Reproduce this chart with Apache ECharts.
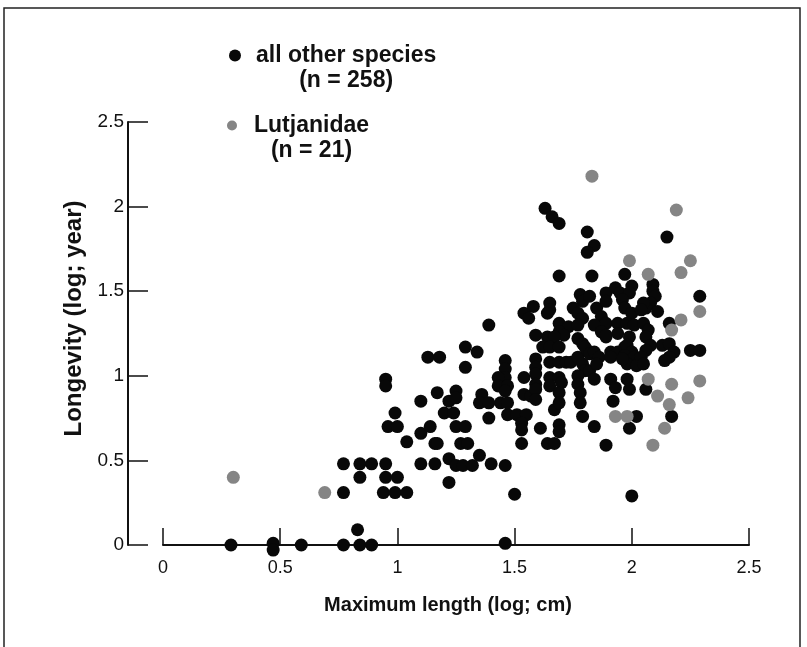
<!DOCTYPE html>
<html>
<head>
<meta charset="utf-8">
<title>Longevity vs maximum length</title>
<script src="https://cdn.jsdelivr.net/npm/echarts@6/dist/echarts.min.js"></script>
<style>
  html, body { margin: 0; padding: 0; background: #ffffff; }
  #chart { width: 807px; height: 647px; }
</style>
</head>
<body>
<div id="chart"></div>
<script>
// Axis ticks (log scales)
const xTicks = [0, 0.5, 1, 1.5, 2, 2.5];
const yTicks = [0, 0.5, 1, 1.5, 2, 2.5];

// All other species: log maximum length (cm) and log longevity (year)
const lengthOther = [
  0.29, 0.47, 0.47, 0.59, 0.77, 0.84, 0.89, 0.83, 1.46,
  0.77, 0.94, 0.99, 1.04, 0.84, 0.95, 1.00, 0.77, 0.84, 0.89, 0.95,
  1.04, 1.10, 1.16, 1.14, 0.96, 1.00, 0.99, 1.10, 1.10, 1.16,
  1.22, 1.25, 1.28, 1.32, 1.35, 1.40, 1.46, 1.22, 1.50,
  1.17, 1.27, 1.30, 1.53, 1.64, 1.67, 1.89,
  1.20, 1.24, 1.25, 1.29, 1.39, 1.47, 1.51, 1.55, 1.53, 1.53,
  1.61, 1.69, 1.69, 1.67, 1.84, 1.79, 1.92, 2.02, 2.17, 1.99,
  1.17, 1.22, 1.25, 1.25, 1.36, 1.35, 1.39, 1.44, 1.47,
  1.29, 1.34, 1.29, 1.13, 1.18, 0.95, 0.95, 1.39,
  1.46, 1.46, 1.46, 1.43, 1.43, 1.47, 1.46, 1.54, 1.54, 1.57,
  1.59, 1.59, 1.59, 1.59, 1.59, 1.59, 1.65, 1.69, 1.72, 1.74,
  1.77, 1.79, 1.80, 1.65, 1.69, 1.65, 1.70, 1.69, 1.69,
  1.77, 1.77, 1.78, 1.78, 1.82, 1.84, 1.91, 1.93, 1.98, 1.99, 2.06, 2.00,
  1.63, 1.66, 1.69, 1.81, 1.84, 1.81, 1.69, 1.83, 2.15,
  1.78, 1.79, 1.65, 1.65, 1.64, 1.58, 1.54, 1.56, 1.75, 1.77, 1.79,
  1.69, 1.73, 1.69, 1.71, 1.77, 1.79, 1.81, 1.59, 1.64, 1.67,
  1.62, 1.65, 1.69, 1.82, 1.85, 1.87, 1.89, 1.77, 1.84, 1.87, 1.89,
  1.80, 1.82, 1.84, 1.86, 1.85, 1.91, 1.94, 1.97,
  1.89, 1.89, 1.93, 1.95, 2.00, 1.99, 1.96, 1.97, 2.00, 1.97,
  2.09, 2.09, 2.10, 2.08, 2.06, 2.11, 2.05, 2.04,
  1.94, 1.98, 2.01, 2.05, 2.07, 2.16, 1.89, 1.94,
  1.99, 1.98, 2.00, 1.97, 2.01, 1.98, 2.02,
  2.06, 2.08, 2.06, 2.04, 2.05, 2.13, 2.16, 2.18, 2.16, 2.14,
  1.91, 1.96, 2.25, 2.29, 2.29
];
const longevityOther = [
  0.00, 0.01, -0.03, 0.00, 0.00, 0.00, 0.00, 0.09, 0.01,
  0.31, 0.31, 0.31, 0.31, 0.40, 0.40, 0.40, 0.48, 0.48, 0.48, 0.48,
  0.61, 0.66, 0.60, 0.70, 0.70, 0.70, 0.78, 0.85, 0.48, 0.48,
  0.51, 0.47, 0.47, 0.47, 0.53, 0.48, 0.47, 0.37, 0.30,
  0.60, 0.60, 0.60, 0.60, 0.60, 0.60, 0.59,
  0.78, 0.78, 0.70, 0.70, 0.75, 0.77, 0.77, 0.77, 0.72, 0.68,
  0.69, 0.71, 0.67, 0.80, 0.70, 0.76, 0.85, 0.76, 0.76, 0.69,
  0.90, 0.85, 0.91, 0.87, 0.89, 0.84, 0.84, 0.84, 0.84,
  1.17, 1.14, 1.05, 1.11, 1.11, 0.98, 0.94, 1.30,
  1.09, 1.04, 0.99, 0.99, 0.94, 0.94, 0.91, 0.99, 0.89, 0.88,
  1.10, 1.05, 1.01, 0.95, 0.92, 0.86, 1.08, 1.08, 1.08, 1.08,
  1.11, 1.07, 1.03, 0.99, 0.99, 0.94, 0.96, 0.90, 0.84,
  1.00, 0.95, 0.90, 0.84, 1.03, 0.98, 0.98, 0.93, 0.98, 0.92, 0.92, 0.29,
  1.99, 1.94, 1.90, 1.85, 1.77, 1.73, 1.59, 1.59, 1.82,
  1.48, 1.44, 1.43, 1.39, 1.37, 1.41, 1.37, 1.34, 1.40, 1.37, 1.34,
  1.31, 1.29, 1.26, 1.24, 1.22, 1.19, 1.15, 1.24, 1.23, 1.23,
  1.17, 1.17, 1.17, 1.47, 1.40, 1.35, 1.31, 1.30, 1.30, 1.26, 1.23,
  1.17, 1.13, 1.14, 1.11, 1.07, 1.14, 1.14, 1.17,
  1.49, 1.44, 1.52, 1.49, 1.53, 1.49, 1.45, 1.40, 1.37, 1.60,
  1.54, 1.50, 1.47, 1.43, 1.40, 1.38, 1.43, 1.39,
  1.31, 1.31, 1.30, 1.31, 1.27, 1.31, 1.24, 1.25,
  1.23, 1.18, 1.14, 1.12, 1.11, 1.07, 1.06,
  1.23, 1.18, 1.15, 1.11, 1.07, 1.18, 1.19, 1.14, 1.11, 1.09,
  1.11, 1.10, 1.15, 1.15, 1.47
];

// Lutjanidae (snappers)
const lengthLutjanidae = [
  0.30, 0.69, 1.83, 2.19, 1.99, 2.25, 2.21, 2.07, 2.29, 2.21, 2.17,
  2.07, 2.17, 2.29, 2.11, 2.24, 2.16, 1.93, 1.98, 2.14, 2.09
];
const longevityLutjanidae = [
  0.40, 0.31, 2.18, 1.98, 1.68, 1.68, 1.61, 1.60, 1.38, 1.33, 1.27,
  0.98, 0.95, 0.97, 0.88, 0.87, 0.83, 0.76, 0.76, 0.69, 0.59
];

const seriesNames = ['all other species', 'Lutjanidae'];
const seriesCounts = [258, 21];

const pairs = (xs, ys) => xs.map((x, i) => [x, ys[i]]);

const FONT = '"Liberation Sans", Arial, Helvetica, sans-serif';
const INK = '#111111';

function legendFor(idx, left, top, size) {
  return {
    data: [seriesNames[idx]],
    left: left,
    top: top,
    padding: 0,
    icon: 'circle',
    itemWidth: size,
    itemHeight: size,
    selectedMode: false,
    formatter: name => '{e| }\n{t|' + name + '}\n{n|(n = ' + seriesCounts[idx] + ')}',
    textStyle: {
      padding: [0, 0, 0, 22 - size],
      rich: {
        e: { fontSize: 23, lineHeight: 25 },
        t: { fontSize: 23, lineHeight: 25, fontWeight: 'bold', color: INK, fontFamily: FONT },
        n: { fontSize: 23, lineHeight: 25, fontWeight: 'bold', color: INK, fontFamily: FONT, align: 'center' }
      }
    }
  };
}

const chart = echarts.init(document.getElementById('chart'), null, { renderer: 'canvas' });

chart.setOption({
  animation: false,
  backgroundColor: '#ffffff',
  textStyle: { fontFamily: FONT },
  grid: { left: 163, right: 58, top: 122, bottom: 102 },
  legend: [
    legendFor(0, 229, 19, 12),
    legendFor(1, 227, 89, 10)
  ],
  xAxis: {
    type: 'value',
    min: xTicks[0],
    max: xTicks[xTicks.length - 1],
    interval: xTicks[1] - xTicks[0],
    name: 'Maximum length (log; cm)',
    nameLocation: 'middle',
    nameGap: 50,
    nameTextStyle: { fontSize: 20, fontWeight: 'bold', color: INK, fontFamily: FONT, padding: [0, 16, 0, 0] },
    axisLine: { show: true, onZero: false, lineStyle: { color: INK, width: 2 } },
    axisTick: { show: true, inside: true, length: 17, lineStyle: { color: INK, width: 1.5 } },
    axisLabel: { fontSize: 18, color: INK, margin: 14, fontFamily: FONT },
    splitLine: { show: false }
  },
  yAxis: {
    type: 'value',
    min: yTicks[0],
    max: yTicks[yTicks.length - 1],
    interval: yTicks[1] - yTicks[0],
    offset: 35,
    name: 'Longevity (log; year)',
    nameLocation: 'middle',
    nameRotate: 90,
    nameGap: 38,
    nameTextStyle: { fontSize: 24, fontWeight: 'bold', color: INK, fontFamily: FONT, padding: [0, 0, 0, 30] },
    axisLine: { show: true, onZero: false, lineStyle: { color: INK, width: 2 } },
    axisTick: { show: true, inside: true, length: 20, lineStyle: { color: INK, width: 1.5 } },
    axisLabel: { fontSize: 19, color: INK, margin: 4, fontFamily: FONT },
    splitLine: { show: false }
  },
  graphic: [{
    type: 'rect',
    silent: true,
    shape: { x: 4, y: 8, width: 796, height: 700 },
    style: { fill: 'none', stroke: '#222222', lineWidth: 1.5 }
  }],
  series: [
    {
      name: seriesNames[0],
      type: 'scatter',
      clip: false,
      symbol: 'circle',
      symbolSize: 13,
      itemStyle: { color: '#080808', opacity: 1 },
      data: pairs(lengthOther, longevityOther)
    },
    {
      name: seriesNames[1],
      type: 'scatter',
      clip: false,
      symbol: 'circle',
      symbolSize: 13,
      itemStyle: { color: '#858585', opacity: 1 },
      data: pairs(lengthLutjanidae, longevityLutjanidae)
    }
  ]
});
</script>
</body>
</html>
